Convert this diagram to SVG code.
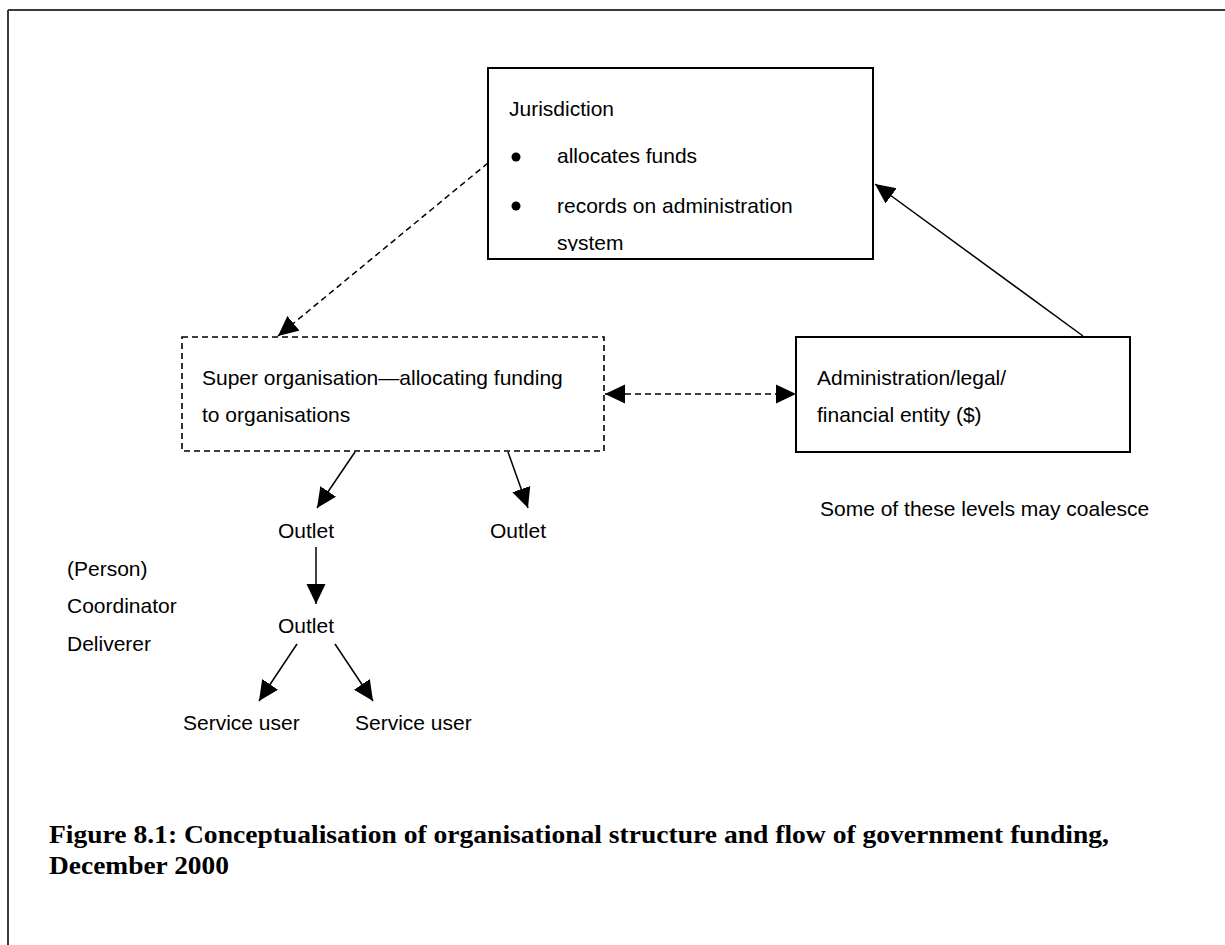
<svg xmlns="http://www.w3.org/2000/svg" width="1225" height="945" viewBox="0 0 1225 945">
  <style>
    .t { font-family: "Liberation Sans", Arial, sans-serif; font-size: 21px; fill: #000; }
    .cap { font-family: "Liberation Serif", "DejaVu Serif", serif; font-size: 25px; font-weight: bold; fill: #000; }
    .box { fill: #fff; stroke: #000; stroke-width: 2; }
    .dbox { fill: #fff; stroke: #000; stroke-width: 1.6; stroke-dasharray: 6 4; }
    .ln { stroke: #000; stroke-width: 1.5; fill: none; }
    .dln { stroke: #000; stroke-width: 1.5; fill: none; stroke-dasharray: 6 4; }
  </style>
  <defs>
    <marker id="ah" viewBox="0 0 20 20" refX="20" refY="10" markerWidth="20" markerHeight="20" markerUnits="userSpaceOnUse" orient="auto-start-reverse">
      <path d="M0,0.5 L20,10 L0,19.5 Z" fill="#000" stroke="none"/>
    </marker>
    <!-- text area of the jurisdiction box (inner margin cuts the last line) -->
    <clipPath id="jclip">
      <rect x="489" y="69" width="383" height="182"/>
    </clipPath>
  </defs>

  <rect width="1225" height="945" fill="#fff"/>

  <!-- page frame -->
  <g id="frame">
    <line x1="8" y1="10" x2="1225" y2="10" stroke="#3a3a3a" stroke-width="2"/>
    <line x1="8" y1="10" x2="8" y2="945" stroke="#3a3a3a" stroke-width="2"/>
  </g>

  <!-- connectors -->
  <g id="connectors">
    <line class="dln" x1="488" y1="163" x2="278" y2="336" marker-end="url(#ah)"/>
    <line class="ln" x1="1083" y1="336" x2="875" y2="184" marker-end="url(#ah)"/>
    <line class="dln" x1="605" y1="394" x2="796" y2="394" marker-start="url(#ah)" marker-end="url(#ah)"/>
    <line class="ln" x1="355" y1="452" x2="317" y2="508" marker-end="url(#ah)"/>
    <line class="ln" x1="508" y1="452" x2="528" y2="508" marker-end="url(#ah)"/>
    <line class="ln" x1="316" y1="547" x2="316" y2="604" marker-end="url(#ah)"/>
    <line class="ln" x1="297" y1="644" x2="259" y2="701" marker-end="url(#ah)"/>
    <line class="ln" x1="335" y1="644" x2="373" y2="701" marker-end="url(#ah)"/>
  </g>

  <!-- jurisdiction -->
  <g id="jurisdiction">
    <rect class="box" x="488" y="68" width="385" height="191"/>
    <g clip-path="url(#jclip)">
      <text class="t" x="509" y="116">Jurisdiction</text>
      <circle cx="516" cy="157" r="4.5" fill="#000"/>
      <text class="t" x="557" y="163">allocates funds</text>
      <circle cx="516" cy="206" r="4.5" fill="#000"/>
      <text class="t" x="557" y="213">records on administration</text>
      <text class="t" x="557" y="250">system</text>
    </g>
  </g>

  <!-- super organisation -->
  <g id="super-organisation">
    <rect class="dbox" x="182" y="337" width="422" height="114"/>
    <text class="t" x="202" y="385">Super organisation—allocating funding</text>
    <text class="t" x="202" y="422">to organisations</text>
  </g>

  <!-- administration entity -->
  <g id="admin-entity">
    <rect class="box" x="796" y="337" width="334" height="115"/>
    <text class="t" x="817" y="385">Administration/legal/</text>
    <text class="t" x="817" y="422">financial entity ($)</text>
  </g>

  <g id="note">
    <text class="t" x="820" y="516">Some of these levels may coalesce</text>
  </g>

  <g id="outlet-1"><text class="t" x="278" y="538">Outlet</text></g>
  <g id="outlet-2"><text class="t" x="490" y="538">Outlet</text></g>
  <g id="outlet-3"><text class="t" x="278" y="633">Outlet</text></g>
  <g id="service-user-1"><text class="t" x="183" y="730">Service user</text></g>
  <g id="service-user-2"><text class="t" x="355" y="730">Service user</text></g>

  <g id="roles">
    <text class="t" x="67" y="576">(Person)</text>
    <text class="t" x="67" y="613">Coordinator</text>
    <text class="t" x="67" y="651">Deliverer</text>
  </g>

  <g id="caption">
    <text class="cap" x="49" y="843" textLength="1060" lengthAdjust="spacingAndGlyphs">Figure 8.1: Conceptualisation of organisational structure and flow of government funding,</text>
    <text class="cap" x="49" y="874" textLength="180" lengthAdjust="spacingAndGlyphs">December 2000</text>
  </g>
</svg>
